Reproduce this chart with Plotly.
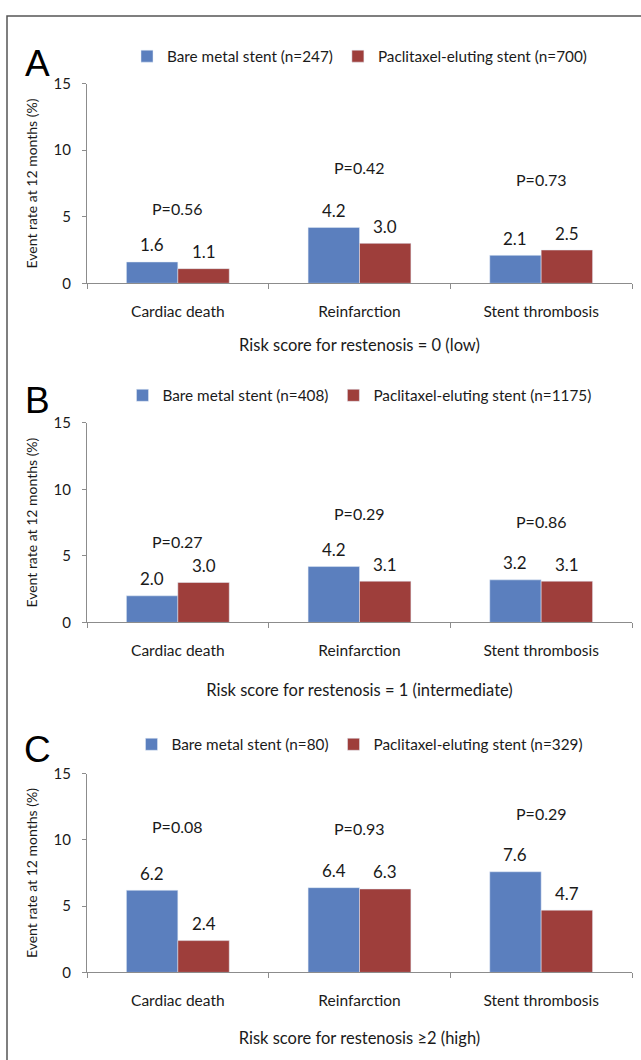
import plotly.graph_objects as go

# ---------------- data ----------------
categories = ["Cardiac death", "Reinfarction", "Stent thrombosis"]
panel_letters = ["A", "B", "C"]
bms_names = ["Bare metal stent (n=247)", "Bare metal stent (n=408)", "Bare metal stent (n=80)"]
pes_names = ["Paclitaxel-eluting stent (n=700)", "Paclitaxel-eluting stent (n=1175)",
             "Paclitaxel-eluting stent (n=329)"]
bms_A = [1.6, 4.2, 2.1]
pes_A = [1.1, 3.0, 2.5]
bms_B = [2.0, 4.2, 3.2]
pes_B = [3.0, 3.1, 3.1]
bms_C = [6.2, 6.4, 7.6]
pes_C = [2.4, 6.3, 4.7]
pvals_A = ["P=0.56", "P=0.42", "P=0.73"]
pvals_B = ["P=0.27", "P=0.29", "P=0.86"]
pvals_C = ["P=0.08", "P=0.93", "P=0.29"]
subtitles = ["Risk score for restenosis = 0 (low)",
             "Risk score for restenosis = 1 (intermediate)",
             "Risk score for restenosis \u22652 (high)"]
y_ticks = [0, 5, 10, 15]
y_title = "Event rate at 12 months (%)"

# ---------------- layout / style ----------------
W, H = 641, 1060
ML, MR = 87, 9
BLUE = "#5B7FBE"
RED = "#9E3E3B"
FONT = "Lato"
TXT = "#1a1a1a"
AXC = "#8c8c8c"
BARGAP = 0.434

# P label heights (data units) per panel
p_heights = [[5.6, 8.7, 7.8], [6.1, 8.2, 7.6], [11.0, 10.9, 12.0]]
# plot area vertical extent in px (top, bottom)
panels_px = [(75, 278), (420, 623), (777, 979)]
legend_px = [47, 392, 747]
letter_px = [54, 397, 752]
sub_standoff = [20, 26, 24]

bms = [bms_A, bms_B, bms_C]
pes = [pes_A, pes_B, pes_C]
pvals = [pvals_A, pvals_B, pvals_C]

def py(px):
    return 1 - px / H

fig = go.Figure()
annotations = []
for i in range(3):
    sfx = "" if i == 0 else str(i + 1)
    xa, ya = "x" + sfx, "y" + sfx
    leg = "legend" + sfx
    fig.add_trace(go.Bar(x=categories, y=bms[i], name=bms_names[i], marker_color=BLUE,
                         xaxis=xa, yaxis=ya, legend=leg, hoverinfo="skip"))
    fig.add_trace(go.Bar(x=categories, y=pes[i], name=pes_names[i], marker_color=RED,
                         xaxis=xa, yaxis=ya, legend=leg, hoverinfo="skip"))
    top, bot = panels_px[i]
    fig.update_layout(**{
        "xaxis" + sfx: dict(domain=[0, 1], anchor=ya, type="category",
                            showline=True, linecolor=AXC, linewidth=1,
                            ticks="outside", tickson="boundaries", ticklen=5,
                            tickcolor=AXC, ticklabelstandoff=14,
                            tickfont=dict(family=FONT, size=15.5, color=TXT),
                            title=dict(text=subtitles[i], standoff=sub_standoff[i],
                                       font=dict(family=FONT, size=16.5, color=TXT)),
                            showgrid=False, fixedrange=True),
        "yaxis" + sfx: dict(domain=[py(bot), py(top)], anchor=xa, range=[0, 15],
                            tickvals=y_ticks, showline=True, linecolor=AXC, linewidth=1,
                            ticks="outside", ticklen=4, tickcolor=AXC,
                            ticklabelstandoff=8,
                            tickfont=dict(family=FONT, size=15, color=TXT),
                            title=dict(text=y_title, standoff=12,
                                       font=dict(family=FONT, size=14, color=TXT)),
                            showgrid=False, zeroline=False, fixedrange=True),
        leg: dict(orientation="h", x=0.5, xanchor="center", y=py(legend_px[i]),
                  yanchor="middle", font=dict(family=FONT, size=15.3, color=TXT),
                  bgcolor="rgba(0,0,0,0)", traceorder="normal"),
    })
    off = (1 - BARGAP) / 4
    for j, c in enumerate(categories):
        for val, dx in ((bms[i][j], -off), (pes[i][j], off)):
            annotations.append(dict(x=j + dx, y=val, xref=xa, yref=ya, text=f"{val:.1f}",
                                    showarrow=False, yshift=17, yanchor="middle",
                                    font=dict(family=FONT, size=17, color=TXT)))
        annotations.append(dict(x=j, y=p_heights[i][j], xref=xa, yref=ya, text=pvals[i][j],
                                showarrow=False, yanchor="middle",
                                font=dict(family=FONT, size=16, color=TXT)))
    annotations.append(dict(x=(37 - ML) / (W - ML - MR), y=py(letter_px[i]), xref="paper",
                            yref="paper", text=panel_letters[i], showarrow=False,
                            xanchor="center", yanchor="middle",
                            font=dict(family="Liberation Sans", size=37, color="#000")))

pw = W - ML - MR
fig.update_layout(
    width=W, height=H,
    margin=dict(l=ML, r=MR, t=0, b=0),
    paper_bgcolor="white", plot_bgcolor="white",
    barmode="group", bargap=BARGAP, bargroupgap=0,
    showlegend=True,
    annotations=annotations,
    shapes=[dict(type="rect", xref="paper", yref="paper",
                 x0=(7 - ML) / pw, x1=(W + 20 - ML) / pw, y0=-0.02, y1=py(6),
                 line=dict(color="#555555", width=1.5), fillcolor="rgba(0,0,0,0)",
                 layer="below")],
)
fig.write_html("out.html", config={"displayModeBar": False},
               post_script="document.body.style.margin='0px';"
                           "document.body.style.overflow='hidden';")
